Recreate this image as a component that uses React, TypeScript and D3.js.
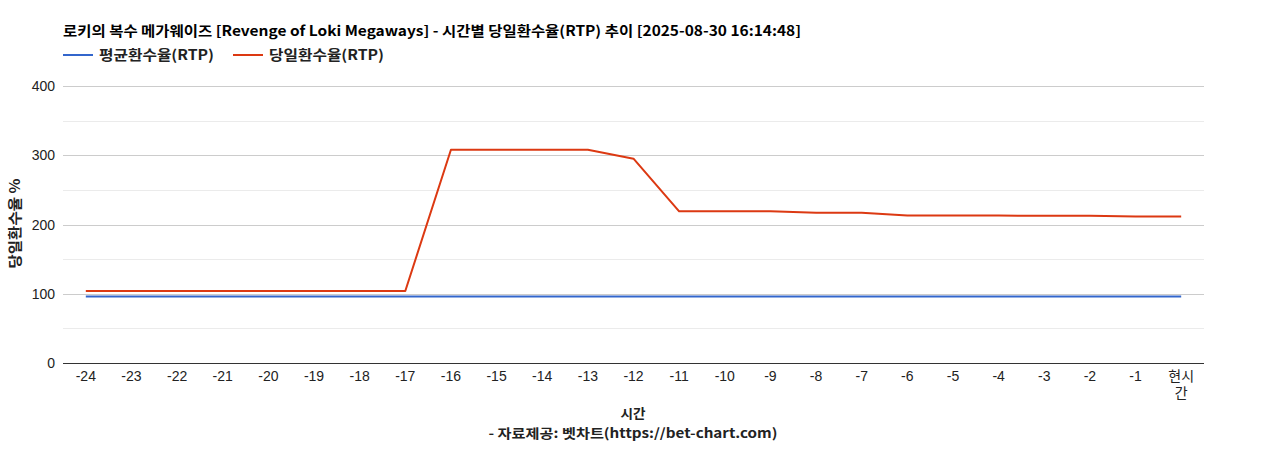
import { useEffect, useRef } from "react";
import * as d3 from "d3";

const hours = [
  "-24", "-23", "-22", "-21", "-20", "-19", "-18", "-17", "-16", "-15", "-14", "-13",
  "-12", "-11", "-10", "-9", "-8", "-7", "-6", "-5", "-4", "-3", "-2", "-1", "현시간",
];
const avgRtp = [
  96, 96, 96, 96, 96, 96, 96, 96, 96, 96, 96, 96,
  96, 96, 96, 96, 96, 96, 96, 96, 96, 96, 96, 96, 96,
];
const dailyRtp = [
  104, 104, 104, 104, 104, 104, 104, 104, 308, 308, 308, 308,
  295, 219, 219, 219, 217, 217, 213, 213, 213, 212.5, 212.5, 211.7, 211.7,
];
const yTicks = [0, 100, 200, 300, 400];
const seriesNames = ["평균환수율(RTP)", "당일환수율(RTP)"];
const seriesColors = ["#3366cc", "#dc3912"];

const FONT = "Arial, 'Liberation Sans', 'Noto Sans CJK KR', sans-serif";
const BOLD_FONT = "'Noto Sans CJK KR', 'Noto Sans', sans-serif";

const App = () => {
  const svgRef = useRef<SVGSVGElement | null>(null);

  useEffect(() => {
    const svg = d3.select(svgRef.current);
    svg.selectAll("*").remove();

    const width = 1268;
    const height = 450;
    const margin = { top: 86, right: 64, bottom: 87, left: 63 };
    const innerW = width - margin.left - margin.right;
    const innerH = height - margin.top - margin.bottom;

    svg.attr("width", width).attr("height", height).style("font-family", FONT);

    const x = d3.scaleBand<string>().domain(hours).range([0, innerW]);
    const y = d3.scaleLinear().domain([0, 400]).range([innerH, 0]);
    const cx = (d: string) => (x(d) ?? 0) + x.bandwidth() / 2;

    const g = svg.append("g").attr("transform", `translate(${margin.left},${margin.top})`);

    // minor grid
    g.selectAll("line.minor")
      .data([50, 150, 250, 350])
      .enter()
      .append("line")
      .attr("x1", 0)
      .attr("x2", innerW)
      .attr("y1", d => Math.round(y(d)) + 0.5)
      .attr("y2", d => Math.round(y(d)) + 0.5)
      .attr("stroke", "#ebebeb");

    // major grid
    g.selectAll("line.major")
      .data(yTicks.slice(1))
      .enter()
      .append("line")
      .attr("x1", 0)
      .attr("x2", innerW)
      .attr("y1", d => Math.round(y(d)) + 0.5)
      .attr("y2", d => Math.round(y(d)) + 0.5)
      .attr("stroke", "#cccccc");

    // y labels
    g.selectAll("text.ytick")
      .data(yTicks)
      .enter()
      .append("text")
      .attr("x", -8)
      .attr("y", d => y(d) + 5)
      .attr("text-anchor", "end")
      .attr("font-size", 14)
      .attr("fill", "#222")
      .text(d => d);

    // x labels
    hours.forEach(h => {
      const t = g.append("text")
        .attr("x", cx(h))
        .attr("y", innerH + 18)
        .attr("text-anchor", "middle")
        .attr("font-size", 14)
        .attr("fill", "#222");
      if (h === "현시간") {
        t.append("tspan").attr("x", cx(h)).text("현시");
        t.append("tspan").attr("x", cx(h)).attr("dy", 17).text("간");
      } else {
        t.text(h);
      }
    });

    const line = d3.line<number>()
      .x((_, i) => cx(hours[i]))
      .y(d => y(d));

    [avgRtp, dailyRtp].forEach((s, i) => {
      g.append("path")
        .datum(s)
        .attr("d", line)
        .attr("fill", "none")
        .attr("stroke", seriesColors[i])
        .attr("stroke-width", 2)
        .attr("stroke-linejoin", "round");
    });

    // baseline
    g.append("line")
      .attr("x1", 0)
      .attr("x2", innerW)
      .attr("y1", innerH + 0.5)
      .attr("y2", innerH + 0.5)
      .attr("stroke", "#333");

    const boldText = (xx: number, yy: number, txt: string, len: number, anchor = "start", size = 14) =>
      svg.append("text")
        .attr("x", xx)
        .attr("y", yy)
        .attr("text-anchor", anchor)
        .attr("font-size", size)
        .attr("font-weight", "bold")
        .attr("font-family", BOLD_FONT)
        .attr("fill", "#000")
        .attr("textLength", len)
        .attr("lengthAdjust", "spacingAndGlyphs")
        .text(txt);

    // title
    boldText(63, 36, "로키의 복수 메가웨이즈 [Revenge of Loki Megaways] - 시간별 당일환수율(RTP) 추이 [2025-08-30 16:14:48]", 738);

    // legend
    const legendX = [63, 233];
    seriesNames.forEach((name, i) => {
      svg.append("line")
        .attr("x1", legendX[i])
        .attr("x2", legendX[i] + 30)
        .attr("y1", 55)
        .attr("y2", 55)
        .attr("stroke", seriesColors[i])
        .attr("stroke-width", 2);
      boldText(legendX[i] + 36, 60, name, 115).attr("fill", "#222");
    });

    // axis titles
    boldText(0, 0, "당일환수율 %", 90, "middle")
      .attr("transform", `translate(20,${margin.top + innerH / 2 - 1}) rotate(-90)`)
      .attr("fill", "#222");

    boldText(633, 418, "시간", 25, "middle", 13).attr("fill", "#222");
    boldText(633, 438, "- 자료제공: 벳차트(https://bet-chart.com)", 289, "middle", 13).attr("fill", "#222");
  }, []);

  return <svg ref={svgRef} style={{ display: "block", position: "absolute", left: 0, top: 0 }}></svg>;
};

export default App;
